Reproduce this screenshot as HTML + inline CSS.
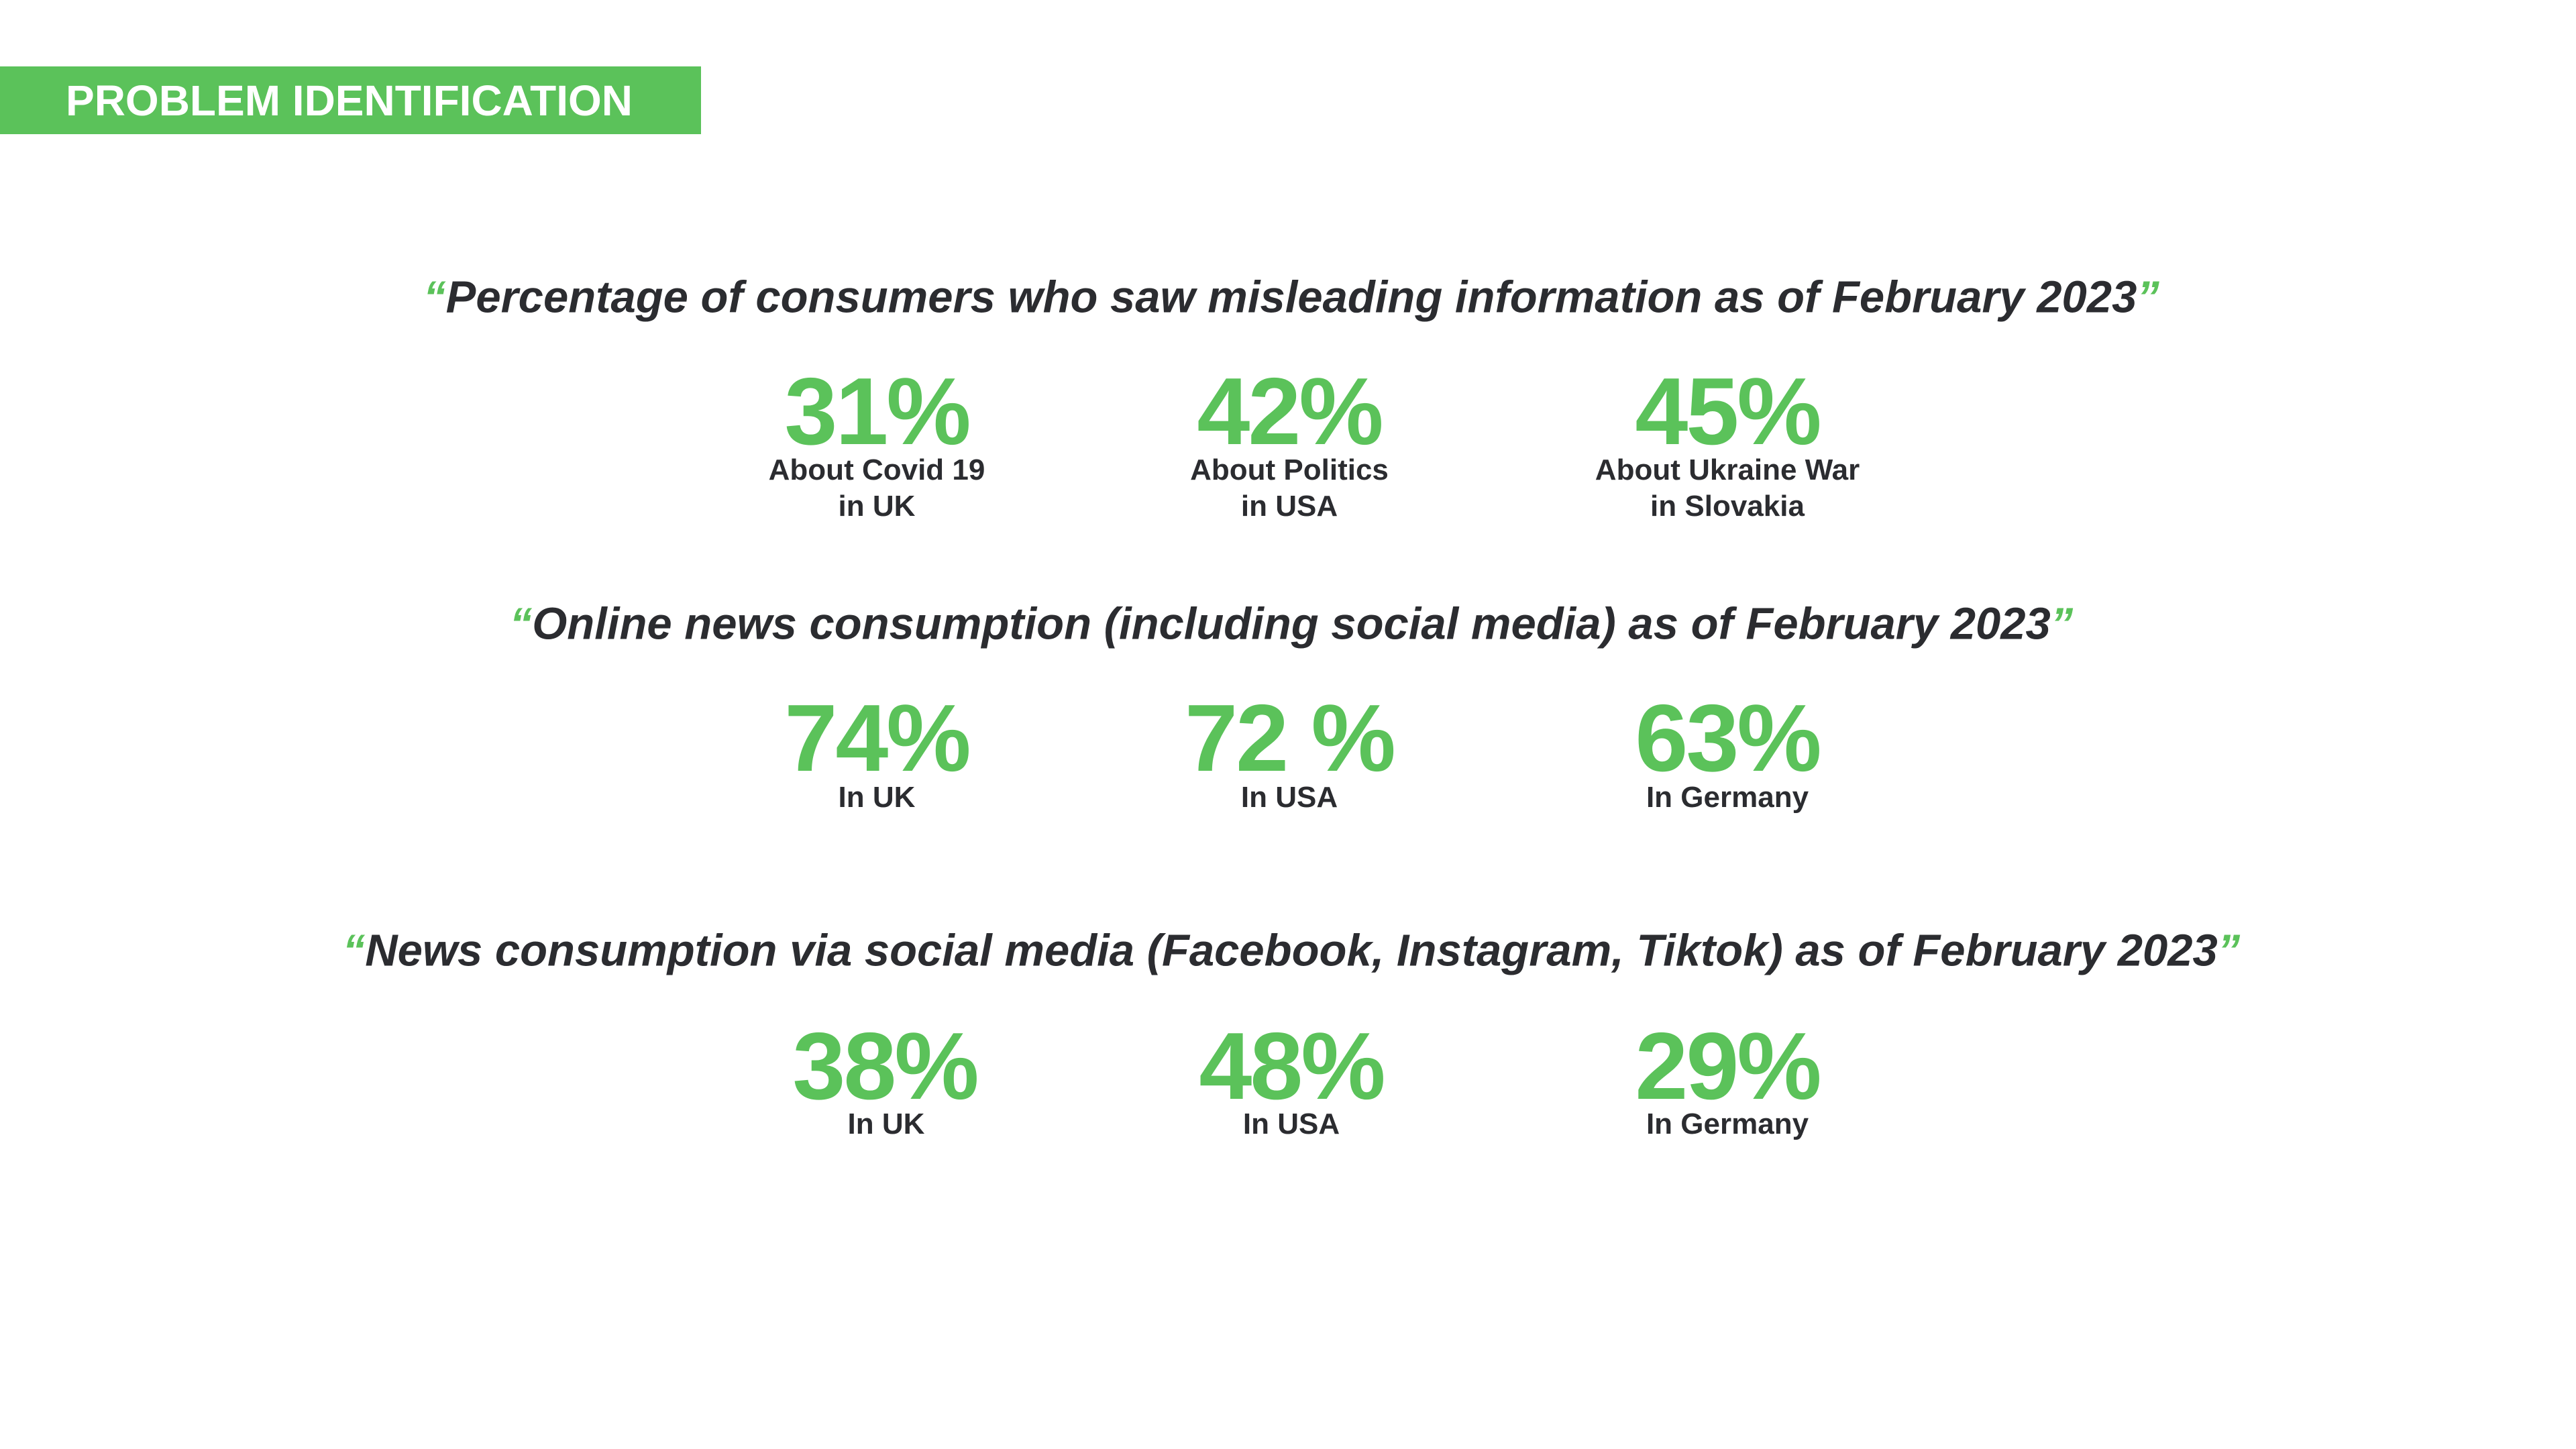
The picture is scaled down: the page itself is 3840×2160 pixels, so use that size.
<!DOCTYPE html>
<html><head><meta charset="utf-8"><style>
html,body{margin:0;padding:0;background:#fff;}
#page{position:relative;width:3840px;height:2160px;overflow:hidden;background:#fff;font-family:"Liberation Sans",sans-serif;}
.c{position:absolute;transform:translate(-50%,-50%);white-space:nowrap;text-align:center;}
.banner{position:absolute;left:0;top:99px;width:1045px;height:101px;background:#5bc25a;}
.banner span{position:absolute;left:98px;top:50%;transform:translateY(-50%);color:#fff;font-weight:bold;font-size:64px;}
.h{font-style:italic;font-weight:bold;font-size:67px;color:#2b2c30;}
.q{color:#5bc25a;}
.n{font-weight:bold;font-size:142px;color:#5bc25a;letter-spacing:-3px;}
.l{font-weight:bold;font-size:44px;color:#2b2c30;line-height:54px;}
</style></head><body>
<div id="page">
<div class="banner"><span>PROBLEM IDENTIFICATION</span></div>

<div class="c h" style="left:1925px;top:443px"><span class="q">“</span>Percentage of consumers who saw misleading information as of February 2023<span class="q">”</span></div>
<div class="c n" style="left:1307px;top:614px">31%</div>
<div class="c n" style="left:1922px;top:614px">42%</div>
<div class="c n" style="left:2575px;top:614px">45%</div>
<div class="c l" style="left:1307px;top:728px">About Covid 19<br>in UK</div>
<div class="c l" style="left:1922px;top:728px">About Politics<br>in USA</div>
<div class="c l" style="left:2575px;top:728px">About Ukraine War<br>in Slovakia</div>

<div class="c h" style="left:1925px;top:930px"><span class="q">“</span>Online news consumption (including social media) as of February 2023<span class="q">”</span></div>
<div class="c n" style="left:1307px;top:1101px">74%</div>
<div class="c n" style="left:1922px;top:1101px">72 %</div>
<div class="c n" style="left:2575px;top:1101px">63%</div>
<div class="c l" style="left:1307px;top:1189px">In UK</div>
<div class="c l" style="left:1922px;top:1189px">In USA</div>
<div class="c l" style="left:2575px;top:1189px">In Germany</div>

<div class="c h" style="left:1925px;top:1417px"><span class="q">“</span>News consumption via social media (Facebook, Instagram, Tiktok) as of February 2023<span class="q">”</span></div>
<div class="c n" style="left:1319px;top:1590px">38%</div>
<div class="c n" style="left:1925px;top:1590px">48%</div>
<div class="c n" style="left:2575px;top:1590px">29%</div>
<div class="c l" style="left:1321px;top:1676px">In UK</div>
<div class="c l" style="left:1925px;top:1676px">In USA</div>
<div class="c l" style="left:2575px;top:1676px">In Germany</div>
</div>
</body></html>
